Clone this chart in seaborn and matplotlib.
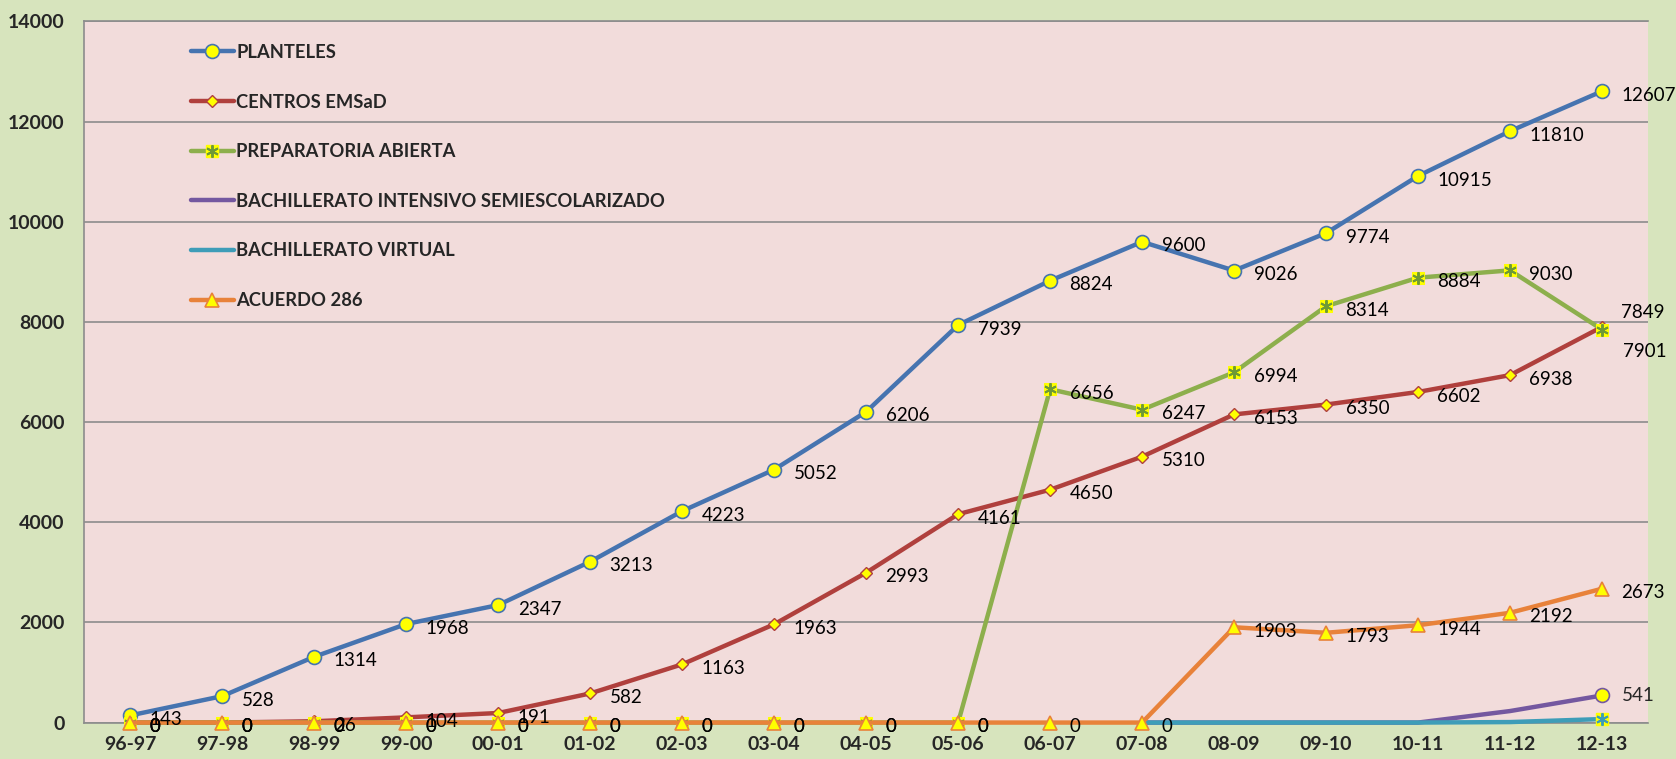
import numpy as np
import pandas as pd
import matplotlib
matplotlib.use("Agg")
import matplotlib.pyplot as plt
from matplotlib.lines import Line2D
import seaborn as sns

# categories (school years)
years = ["96-97", "97-98", "98-99", "99-00", "00-01", "01-02", "02-03", "03-04", "04-05",
         "05-06", "06-07", "07-08", "08-09", "09-10", "10-11", "11-12", "12-13"]

planteles = [143, 528, 1314, 1968, 2347, 3213, 4223, 5052, 6206, 7939, 8824, 9600,
             9026, 9774, 10915, 11810, 12607]
centros = [0, 0, 26, 104, 191, 582, 1163, 1963, 2993, 4161, 4650, 5310,
           6153, 6350, 6602, 6938, 7901]
prepa = [0, 0, 0, 0, 0, 0, 0, 0, 0, 0, 6656, 6247, 6994, 8314, 8884, 9030, 7849]
intensivo = [None] * 11 + [0, 0, 0, 0, 230, 541]
virtual = [None] * 11 + [0, 0, 0, 0, 10, 70]
acuerdo = [0, 0, 0, 0, 0, 0, 0, 0, 0, 0, 0, 0, 1903, 1793, 1944, 2192, 2673]

names = ["PLANTELES", "CENTROS EMSaD", "PREPARATORIA ABIERTA",
         "BACHILLERATO INTENSIVO SEMIESCOLARIZADO", "BACHILLERATO VIRTUAL", "ACUERDO 286"]
colors = ["#4674B0", "#B0403D", "#8DAF4C", "#7458A0", "#3E9DB8", "#E8823A"]

sns.set_style("white")
plt.rcParams["font.family"] = ["Lato", "DejaVu Sans"]

fig = plt.figure(figsize=(16.76, 7.59), dpi=100, facecolor="#D7E4BD")
ax = fig.add_axes([0.0503, 0.048, 0.9330, 0.9237])
ax.set_facecolor("#F2DCDB")

x = np.arange(len(years))
series = [planteles, centros, prepa, intensivo, virtual, acuerdo]
df = pd.DataFrame({"x": np.tile(x, len(names)),
                   "serie": np.repeat(names, len(years)),
                   "valor": pd.to_numeric(pd.Series(sum(series, [])), errors="coerce")})

marker_kw = {
    "PLANTELES": dict(marker="o", markersize=10, markerfacecolor="#FFFF00", markeredgecolor=colors[0], markeredgewidth=1.2),
    "CENTROS EMSaD": dict(marker="D", markersize=6, markerfacecolor="#FFFF00", markeredgecolor=colors[1], markeredgewidth=1.0),
    "PREPARATORIA ABIERTA": dict(marker="s", markersize=9, markerfacecolor="#FFFF00", markeredgecolor="#FFFF00"),
    "BACHILLERATO INTENSIVO SEMIESCOLARIZADO": dict(),
    "BACHILLERATO VIRTUAL": dict(),
    "ACUERDO 286": dict(marker="^", markersize=10, markerfacecolor="#FFFF00", markeredgecolor=colors[5], markeredgewidth=1.2),
}
star_kw = dict(marker=(6, 2, 0), markersize=9, mew=1.4)

z = 3
for name, c in zip(names, colors):
    sub = df[df["serie"] == name].dropna()
    sns.lineplot(data=sub, x="x", y="valor", ax=ax, color=c, linewidth=3.2,
                 errorbar=None, legend=False, clip_on=False, zorder=z, **marker_kw[name])
    if name == "PREPARATORIA ABIERTA":
        # asterisk drawn on the yellow squares
        ax.plot(x, prepa, ls="none", color="#6E9A35", clip_on=False, zorder=z + 0.5, **star_kw)
    z += 1

# last points of intensivo and virtual
ax.plot(x[-1], intensivo[-1], ls="none", marker="o", markersize=10, markerfacecolor="#FFFF00",
        markeredgecolor=colors[3], mew=1.2, clip_on=False, zorder=10)
ax.plot(x[-1], virtual[-1], ls="none", marker="s", markersize=9, markerfacecolor="#FFFF00",
        markeredgecolor="#FFFF00", clip_on=False, zorder=10)
ax.plot(x[-1], virtual[-1], ls="none", color=colors[4], clip_on=False, zorder=11, **star_kw)

# data labels
def label(vals, offsets=None):
    for i, v in enumerate(vals):
        if v is None:
            continue
        off = (14, -3)
        if offsets and i in offsets:
            off = offsets[i]
        ax.annotate(f"{v}", (x[i], v), xytext=off, textcoords="offset points",
                    ha="left", va="center", fontsize=13.5, color="black", zorder=12)

label(planteles)
label(centros, {16: (15, -18)})
label(prepa, {16: (14, 12)})
label(acuerdo)
ax.annotate(f"{intensivo[-1]}", (x[-1], intensivo[-1]), xytext=(14, 0), textcoords="offset points",
            ha="left", va="center", fontsize=13.5, zorder=12)

ax.set_xlim(-0.5, len(years) - 0.5)
ax.set_ylim(0, 14000)
ax.set_yticks(range(0, 14001, 2000))
ax.set_xticks(x)
ax.set_xticklabels(years, fontsize=14, fontweight="bold")
ax.set_yticklabels([str(v) for v in range(0, 14001, 2000)], fontsize=14, fontweight="bold")
ax.tick_params(axis="both", length=0)
ax.tick_params(axis="x", pad=10)
ax.tick_params(axis="y", pad=14)
ax.set_xlabel("")
ax.set_ylabel("")
ax.yaxis.grid(True, color="#8C8C8C", linewidth=1.2)
ax.set_axisbelow(True)
for s in ["left", "top", "bottom"]:
    ax.spines[s].set_color("#8C8C8C")
    ax.spines[s].set_linewidth(1.2)
ax.spines["right"].set_visible(False)

# legend
handles = [
    Line2D([], [], color=colors[0], lw=3.2, **marker_kw["PLANTELES"]),
    Line2D([], [], color=colors[1], lw=3.2, **marker_kw["CENTROS EMSaD"]),
    (Line2D([], [], color=colors[2], lw=3.2, **marker_kw["PREPARATORIA ABIERTA"]),
     Line2D([], [], ls="none", color="#6E9A35", **star_kw)),
    Line2D([], [], color=colors[3], lw=3.2),
    Line2D([], [], color=colors[4], lw=3.2),
    Line2D([], [], color=colors[5], lw=3.2, **marker_kw["ACUERDO 286"]),
]
leg = ax.legend(handles, names, loc="upper left", bbox_to_anchor=(0.068, 0.968),
                frameon=False, fontsize=13.2, handlelength=2.35, handletextpad=0.15,
                labelspacing=1.78, borderpad=0, borderaxespad=0)
for t in leg.get_texts():
    t.set_fontweight("bold")

fig.savefig("out.png", dpi=100, facecolor=fig.get_facecolor())
